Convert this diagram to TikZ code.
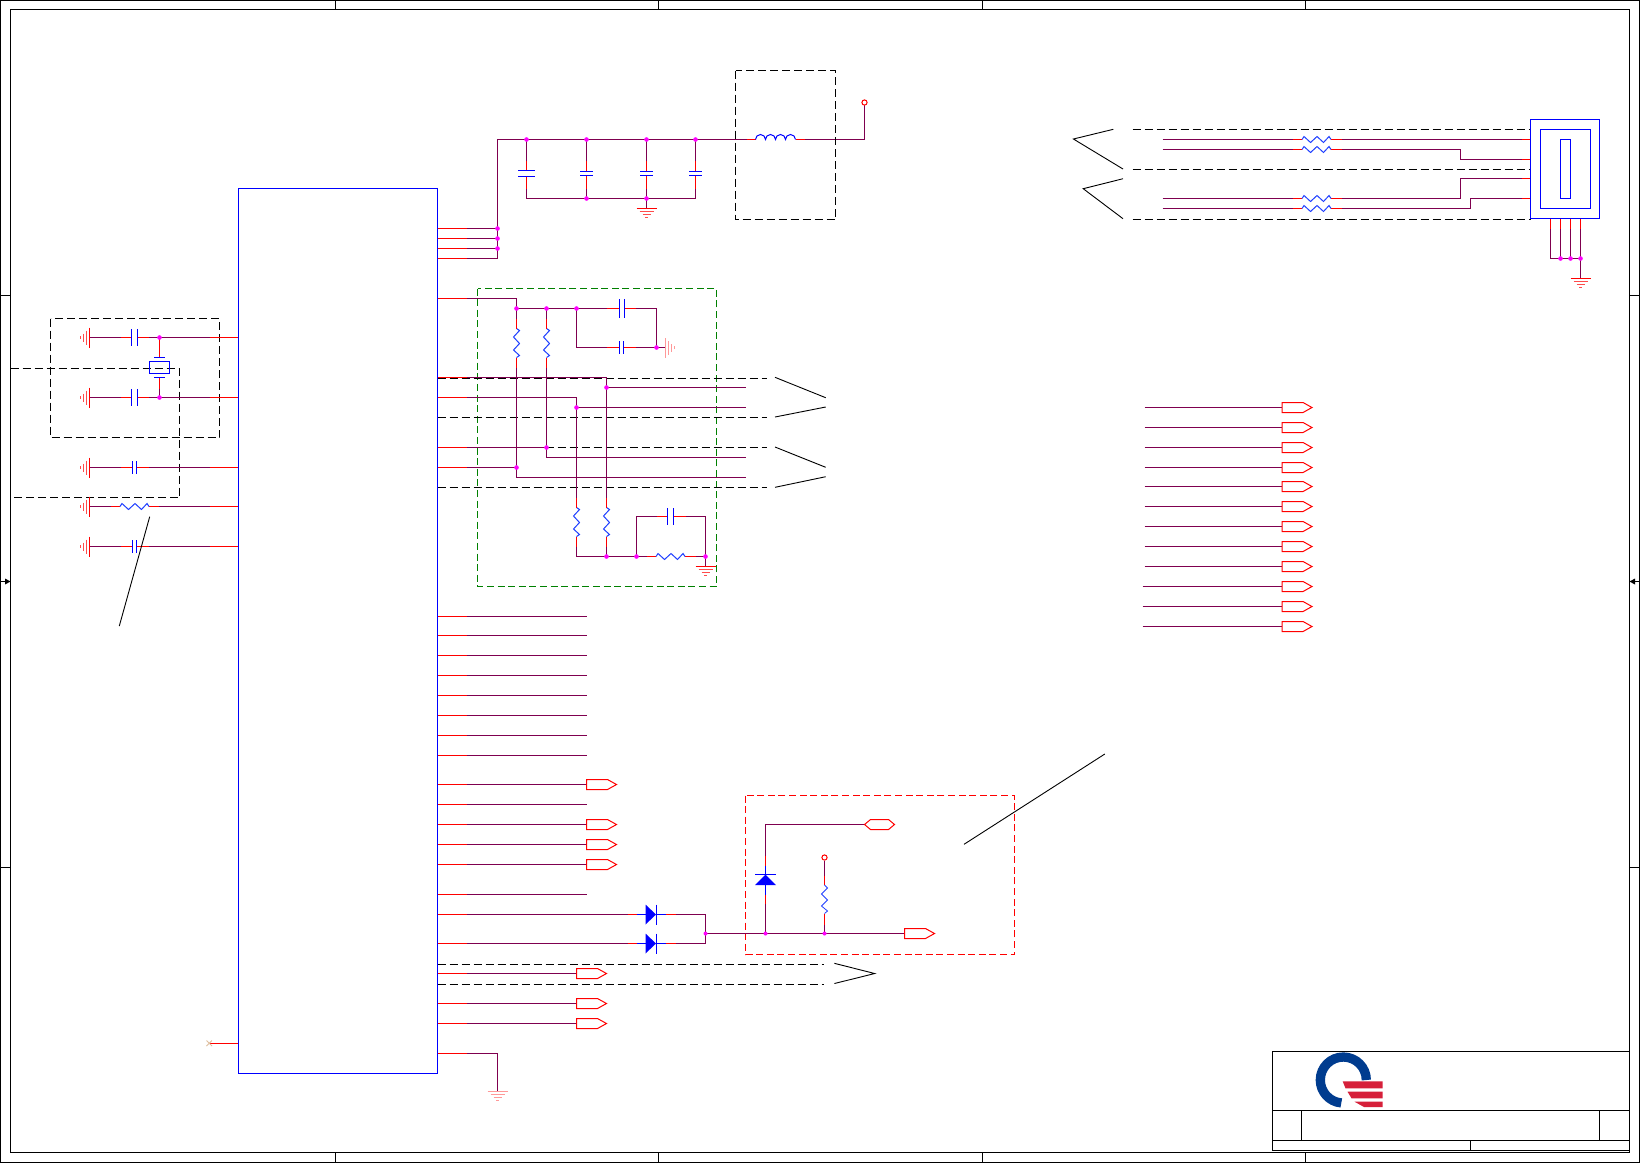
\documentclass[tikz,border=0pt]{standalone}
\definecolor{wirecol}{HTML}{7F004F}
\definecolor{chipblue}{HTML}{0000FF}
\definecolor{zigblue}{HTML}{2040FF}
\definecolor{greendash}{HTML}{008000}
\definecolor{logoblue}{HTML}{003C8F}
\definecolor{logored}{HTML}{D6203A}
\definecolor{dotpink}{HTML}{FF00FF}
\tikzset{
  wire/.style={draw=wirecol,line width=.5pt},
  stub/.style={draw=red,line width=.5pt},
  blueline/.style={draw=chipblue,line width=.5pt},
  zig/.style={draw=zigblue,line width=.5pt},
  frameline/.style={draw=black,line width=.55pt},
  blackline/.style={draw=black,line width=.45pt},
  blackdash/.style={draw=black,line width=.5pt,dash pattern=on 4pt off 2pt},
  greenbox/.style={draw=greendash,line width=.5pt,dash pattern=on 3.5pt off 1.8pt},
  redbox/.style={draw=red,line width=.5pt,dash pattern=on 3.5pt off 1.8pt},
  junc/.style={circle,fill=dotpink,draw=none,inner sep=0pt,minimum size=2.3pt},
  ring/.style={circle,draw=red,fill=white,line width=.5pt,inner sep=0pt,minimum size=2.6pt},
  flagshape/.style={draw=red,fill=white,line width=.5pt},
  pics/resist/.style={code={
    \draw[zig] (0,0)--(2,-3)--(8.5,3)--(15,-3)--(21.5,3)--(27,-3)--(29,0);}},
  pics/gnd/.style={code={
    \draw[stub] (-10,0)--(10,0);
    \draw[draw=red!70,line width=.5pt] (-7,3)--(7,3) (-4,6)--(4,6) (-1.5,9)--(1.5,9);}},
  pics/gndpale/.style={code={
    \draw[draw=red!40,line width=.5pt] (-10,0)--(10,0) (-7,3)--(7,3) (-4,6)--(4,6) (-1.5,9)--(1.5,9);}},
  pics/flagout/.style={code={
    \draw[flagshape] (0,-5)--(21,-5)--(30,0)--(21,5)--(0,5)--cycle;}},
  pics/flaghex/.style={code={
    \draw[flagshape] (0,0)--(6,-5)--(24,-5)--(30,0)--(24,5)--(6,5)--cycle;}},
}
\newcommand\plateH[4]{\draw[blueline] (#1-#4,#2-#3)--(#1+#4,#2-#3) (#1-#4,#2+#3)--(#1+#4,#2+#3);}
\newcommand\leftcap[3]{%
  \pic[rotate=-90] at (89.5,#1) {gnd};
  \draw[wire] (89.5,#1)--(120.5,#1) (148.5,#1)--(238.5,#1);
  \draw[stub] (120.5,#1)--(134.5-#2,#1) (134.5+#2,#1)--(148.5,#1) (209.5,#1)--(238.5,#1);
  \draw[blueline] (134.5-#2,#1-#3)--(134.5-#2,#1+#3) (134.5+#2,#1-#3)--(134.5+#2,#1+#3);}
\newcommand\pullV[2]{% x, ytop of the zigzag
  \pic[rotate=-90] at (#1,#2) {resist};
  \draw[stub] (#1,#2-10)--(#1,#2) (#1,#2+29)--(#1,#2+39);}
\begin{document}
\begin{tikzpicture}[x=0.5pt,y=-0.5pt]
\useasboundingbox (0,0) rectangle (1641,1164);
\fill[white] (0,0) rectangle (1641,1164);

%% drawing frame
\draw[frameline] (0.5,0.5) rectangle (1639.5,1162.5);
\draw[frameline] (10.5,9.5) rectangle (1629.5,1152.5);
\foreach \x in {335.5,658.5,982.5,1305.5}
  \draw[frameline] (\x,0.5)--(\x,9.5) (\x,1152.5)--(\x,1162.5);
\foreach \y in {295.5,867.5}
  \draw[frameline] (0.5,\y)--(10.5,\y) (1629.5,\y)--(1639.5,\y);
\draw[frameline] (0.5,581.5)--(10.5,581.5) (1629.5,581.5)--(1639.5,581.5);
\fill[black] (10.5,581.5)--(5,578.5)--(5,584.5)--cycle;
\fill[black] (1629.5,581.5)--(1635,578.5)--(1635,584.5)--cycle;

%% title block
\draw[frameline] (1272.5,1051.5) rectangle (1629.5,1150.5);
\draw[frameline] (1272.5,1110.5)--(1629.5,1110.5) (1272.5,1140.5)--(1629.5,1140.5);
\draw[frameline] (1301.5,1110.5)--(1301.5,1140.5) (1599.5,1110.5)--(1599.5,1140.5) (1470.5,1140.5)--(1470.5,1150.5);
\draw[draw=logoblue,line width=4.65pt] (1366.3,1080) arc[start angle=0,end angle=-265,radius=23];
\fill[logored] (1342.7,1081.3)--(1382.7,1081.3)--(1382.7,1088.3)--(1345.5,1088.3)--cycle;
\fill[logored] (1347.5,1091.7)--(1382.7,1091.7)--(1382.7,1098.3)--(1351.5,1098.3)--cycle;
\fill[logored] (1354.5,1101.7)--(1382.7,1101.7)--(1382.7,1107)--(1364,1107)--cycle;

%% junctions of the power rail
\coordinate (pwrTop) at (497.5,139.5);
\coordinate (jc1) at (526.5,139.5);
\coordinate (jc2) at (586.5,139.5);
\coordinate (jc3) at (646.5,139.5);
\coordinate (jc4) at (695.5,139.5);
\coordinate (jb1) at (526.5,198.5);
\coordinate (jb2) at (586.5,198.5);
\coordinate (jb3) at (646.5,198.5);
\coordinate (jb4) at (695.5,198.5);

%% power rail and decoupling
\draw[wire] (437.5,228.5)--(497.5,228.5) (437.5,238.5)--(497.5,238.5) (437.5,248.5)--(497.5,248.5) (437.5,258.5)--(497.5,258.5)--(pwrTop)--(746.5,139.5);
\draw[wire] (804.5,139.5)--(864.5,139.5)--(864.5,104.8);
\draw[stub] (746.5,139.5)--(755.5,139.5) (795.5,139.5)--(804.5,139.5);
\draw[draw=chipblue,line width=.5pt] (755.5,139.5) arc[start angle=180,end angle=360,radius=5] arc[start angle=180,end angle=360,radius=5] arc[start angle=180,end angle=360,radius=5] arc[start angle=180,end angle=360,radius=5];
\node[ring] (vin) at (864.5,102.5) {};
\draw[wire] (jc1)--(526.5,160.5) (526.5,188.5)--(jb1)--(jb4)--(695.5,188.5) (695.5,160.5)--(jc4);
\draw[wire] (jc2)--(586.5,160.5) (586.5,188.5)--(jb2);
\draw[wire] (jc3)--(646.5,160.5) (646.5,188.5)--(jb3)--(646.5,208.5);
\foreach \x/\g/\h in {526.5/3/8.5,586.5/2/6.5,646.5/2/6.5,695.5/2/6.5}{
  \draw[stub] (\x,160.5)--(\x,173.5-\g) (\x,173.5+\g)--(\x,188.5);
  \plateH{\x}{173.5}{\g}{\h}
}
\pic at (646.5,208.5) {gnd};
\draw[blackdash] (735.5,70.5) rectangle (835.5,219.5);

%% left section
\draw[blackdash] (50.5,318.5) rectangle (219.5,437.5);
\draw[blackdash] (10.5,368.5)--(179.5,368.5)--(179.5,497.5)--(10.5,497.5);
\leftcap{337.5}{3}{8.5}
\leftcap{397.5}{3}{8.5}
\leftcap{467.5}{2}{6.5}
\leftcap{546.5}{2}{6.5}
\pic[rotate=-90] at (89.5,506.5) {gnd};
\draw[wire] (89.5,506.5)--(110.5,506.5) (158.5,506.5)--(238.5,506.5);
\draw[stub] (110.5,506.5)--(120,506.5) (149,506.5)--(158.5,506.5) (209.5,506.5)--(238.5,506.5);
\pic at (120,506.5) {resist};
\coordinate (xt) at (159.5,337.5);
\coordinate (xb) at (159.5,397.5);
\draw[stub] (xt)--(159.5,357.5) (159.5,377.5)--(xb);
\draw[wire] (159.5,388.5)--(xb);
\draw[blueline] (149.5,361.5) rectangle (169.5,373.5);
\draw[blueline] (154,357.5)--(165,357.5) (154,377.5)--(165,377.5);
\draw[blackline] (149.7,516.7)--(119.3,626);
\draw[stub] (210,1043.5)--(238.5,1043.5);
\draw[draw=brown!50,line width=.4pt] (206.5,1040.5)--(212,1046) (206.5,1046)--(212,1040.5);

%% filter section
\coordinate (jf1) at (516.5,308.5);
\coordinate (jf2) at (546.5,308.5);
\coordinate (jf3) at (576.5,308.5);
\coordinate (jgn) at (656.5,347.5);
\coordinate (ja) at (516.5,467.5);
\coordinate (jb) at (546.5,447.5);
\coordinate (jcc) at (606.5,387.5);
\coordinate (jd) at (576.5,407.5);
\coordinate (je) at (606.5,556.5);
\coordinate (jf) at (636.5,556.5);
\coordinate (jg) at (705.5,556.5);
\draw[greenbox] (477.5,288.5) rectangle (716.5,586.5);
\draw[redbox] (745.5,795.5) rectangle (1014.5,954.5);
\draw[blackdash] (437.5,378.5)--(766.5,378.5) (437.5,417.5)--(766.5,417.5) (437.5,447.5)--(766.5,447.5) (437.5,487.5)--(766.5,487.5);
\draw[wire] (437.5,298.5)--(516.5,298.5)--(jf1)--(516.5,318.5) (516.5,367.5)--(516.5,477.5)--(745.5,477.5);
\draw[wire] (437.5,467.5)--(ja);
\draw[wire] (jf1)--(606.5,308.5) (635.5,308.5)--(656.5,308.5)--(jgn)--(635.5,347.5) (606.5,347.5)--(576.5,347.5)--(jf3);
\draw[wire] (jf2)--(546.5,318.5) (546.5,367.5)--(546.5,457.5)--(745.5,457.5);
\draw[wire] (437.5,447.5)--(jb);
\draw[wire] (437.5,377.5)--(606.5,377.5)--(606.5,497.5) (jcc)--(745.5,387.5);
\draw[wire] (437.5,397.5)--(576.5,397.5)--(576.5,497.5) (jd)--(745.5,407.5);
\draw[stub] (606.5,308.5)--(619.5,308.5) (624.5,308.5)--(635.5,308.5) (606.5,347.5)--(619.5,347.5) (623.5,347.5)--(635.5,347.5);
\draw[blueline] (619.5,299)--(619.5,318) (624.5,299)--(624.5,318) (619.5,341)--(619.5,354) (623.5,341)--(623.5,354);
\draw[wire] (jgn)--(665.5,347.5);
\pic[rotate=90] at (665.5,347.5) {gndpale};
\pullV{516.5}{328.5}
\pullV{546.5}{328.5}
\pullV{576.5}{507.5}
\pullV{606.5}{507.5}
\draw[wire] (576.5,546.5)--(576.5,556.5)--(je) (606.5,546.5)--(je)--(jf)--(646.5,556.5) (695.5,556.5)--(jg) (jf)--(636.5,516.5)--(656.5,516.5) (685.5,516.5)--(705.5,516.5)--(jg)--(705.5,566.5);
\draw[stub] (646.5,556.5)--(656,556.5) (685,556.5)--(695.5,556.5) (656.5,516.5)--(667.5,516.5) (673.5,516.5)--(685.5,516.5);
\pic at (656,556.5) {resist};
\draw[blueline] (667.5,508)--(667.5,525) (673.5,508)--(673.5,525);
\pic at (705.5,566.5) {gnd};
\draw[blackline] (775,377.3)--(825.7,397.7) (775,417)--(825.7,407);
\draw[blackline] (775,447)--(825.7,467.3) (775,487.3)--(825.7,476.7);

%% lower pins
\foreach \y in {616.5,635.5,655.5,675.5,695.5,715.5,735.5,755.5,804.5,894.5}
  \draw[wire] (437.5,\y)--(586.5,\y);
\foreach \y in {784.5,824.5,844.5,864.5}{
  \draw[wire] (437.5,\y)--(586.5,\y);
  \pic at (586.5,\y) {flagout};
}
\foreach \y in {973.5,1003.5,1023.5}{
  \draw[wire] (437.5,\y)--(576.5,\y);
  \pic at (576.5,\y) {flagout};
}
\draw[blackdash] (437.5,964.5)--(824,964.5) (437.5,984.5)--(824,984.5);
\draw[blackline] (834.4,963.3)--(874.7,973.5)--(834.4,983.5);

%% OR diodes
\coordinate (jo) at (705.5,933.5);
\coordinate (jz) at (765.5,933.5);
\coordinate (jr) at (824.5,933.5);
\foreach \y in {914.5,943.5}{
  \draw[wire] (437.5,\y)--(627.5,\y) (675.5,\y)--(705.5,\y);
  \draw[stub] (627.5,\y)--(636.5,\y) (665.5,\y)--(675.5,\y);
  \draw[blueline] (636.5,\y)--(645.5,\y) (656.5,\y)--(665.5,\y) (656.5,\y-10)--(656.5,\y+10);
  \fill[chipblue] (645.5,\y-10)--(656,\y)--(645.5,\y+10)--cycle;
}
\draw[wire] (705.5,914.5)--(705.5,943.5) (jo)--(904.5,933.5);
\pic at (904.5,933.5) {flagout};
\draw[wire] (jz)--(765.5,903.5) (765.5,855.5)--(765.5,824.5)--(864.5,824.5);
\draw[stub] (765.5,903.5)--(765.5,894.5) (765.5,865.5)--(765.5,855.5);
\draw[blueline] (765.5,894.5)--(765.5,885) (765.5,874.5)--(765.5,865.5) (755,874.5)--(776,874.5);
\fill[chipblue] (765.5,874.5)--(755,885)--(776,885)--cycle;
\pic at (864.5,824.5) {flaghex};
\node[ring] (vz) at (824.5,857.5) {};
\draw[wire] (vz)--(824.5,875.5) (824.5,924.5)--(jr);
\draw[stub] (824.5,875.5)--(824.5,885) (824.5,913.5)--(824.5,924.5);
\draw[draw=zigblue,line width=.4pt] (824.5,885)--(827.5,888)--(821.5,894)--(827.5,900)--(821.5,906)--(827.5,911)--(824.5,913.5);
\draw[blackline] (964,844.3)--(1104.8,754);

%% ground pin
\draw[wire] (437.5,1053.5)--(497.5,1053.5)--(497.5,1091.5);
\pic at (497.5,1091.5) {gndpale};

%% stubs on the chip
\foreach \y in {228.5,238.5,248.5,258.5,298.5,377.5,397.5,447.5,467.5,616.5,635.5,655.5,675.5,695.5,715.5,735.5,755.5,784.5,804.5,824.5,844.5,864.5,894.5,914.5,943.5,973.5,1003.5,1023.5,1053.5}
  \draw[stub] (437.5,\y)--(466.5,\y);
\node[draw=chipblue,line width=.5pt,fill=none,inner sep=0pt,outer sep=0pt,minimum width=99.5pt,minimum height=442.5pt,anchor=north west] (chip) at (238.5,188.5) {};

%% connector, upper right
\draw[blackdash] (1132.5,129.5)--(1530.5,129.5) (1132.5,169.5)--(1530.5,169.5) (1132.5,219.5)--(1530.5,219.5);
\foreach \y/\xa/\ya in {139.5/1521.5/139.5,149.5/1460.5/159.5,198.5/1460.5/178.5,208.5/1470.5/198.5}{
  \draw[wire] (1162.5,\y)--(1292.5,\y) (1341.5,\y)--(\xa,\y)--(\xa,\ya)--(1521.5,\ya);
  \draw[stub] (1292.5,\y)--(1302,\y) (1331,\y)--(1341.5,\y) (1521.5,\ya)--(1530.5,\ya);
  \pic at (1302,\y) {resist};
}
\draw[blueline] (1530.5,119.5) rectangle (1599.5,218.5);
\draw[blueline] (1540.5,129.5) rectangle (1590.5,208.5);
\draw[blueline] (1560.5,139.5) rectangle (1570.5,198.5);
\coordinate (jk1) at (1560.5,258.5);
\coordinate (jk2) at (1570.5,258.5);
\coordinate (jk3) at (1580.5,258.5);
\draw[wire] (1550.5,228.5)--(1550.5,258.5)--(jk3) (1560.5,228.5)--(jk1) (1570.5,228.5)--(jk2) (1580.5,228.5)--(1580.5,278.5);
\foreach \x in {1550.5,1560.5,1570.5,1580.5}
  \draw[stub] (\x,218.5)--(\x,228.5);
\pic at (1580.5,278.5) {gnd};
\draw[blackline] (1113.3,129.3)--(1073.4,139)--(1123,169);
\draw[blackline] (1123,178.7)--(1083.2,188.7)--(1123,218.7);

%% right list of signals
\foreach \y/\xs in {407.5/1144.5,427.5/1144.5,447.5/1144.5,467.5/1144.5,486.5/1144.5,506.5/1144.5,526.5/1144.5,546.5/1144.5,566.5/1144.5,586.5/1142.5,606.5/1142.5,626.5/1142.5}{
  \draw[wire] (\xs,\y)--(1282,\y);
  \pic at (1282,\y) {flagout};
}

%% junction dots on top
\foreach \p in {jc1,jc2,jc3,jc4,jb2,jb3,jf1,jf2,jf3,jgn,ja,jb,jcc,jd,je,jf,jg,xt,xb,jk1,jk2,jk3}
  \node[junc] at (\p) {};
\foreach \p in {jo,jz,jr}
  \node[junc,minimum size=2pt] at (\p) {};
\foreach \y in {228.5,238.5,248.5}
  \node[junc] at (497.5,\y) {};
\end{tikzpicture}
\end{document}
